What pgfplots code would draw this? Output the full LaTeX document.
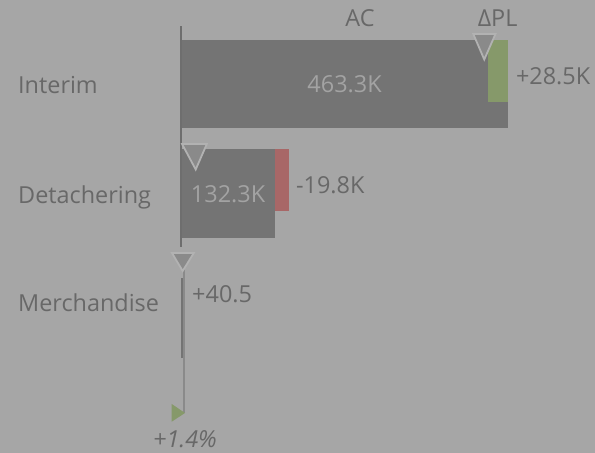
\documentclass[border=0pt]{standalone}
\usepackage{fontspec}
\setmainfont{Open Sans}
\usepackage{pgfplots}
\pgfplotsset{compat=1.18}
\definecolor{bg}{HTML}{A6A6A6}
\definecolor{barc}{HTML}{747474}
\definecolor{posc}{HTML}{86996A}
\definecolor{negc}{HTML}{A86767}
\definecolor{axc}{HTML}{6E6E6E}
\definecolor{trif}{HTML}{8A8A8A}
\definecolor{trio}{HTML}{B2B2B2}
\definecolor{lbl}{HTML}{686868}
\definecolor{inlbl}{HTML}{A3A3A3}
\newcommand{\fs}{\fontsize{23.5}{28}\selectfont}
\begin{document}
\begin{tikzpicture}
\begin{axis}[
  at={(0,0)}, anchor=north west,
  x=0.704bp, y=1bp, y dir=reverse,
  xmin=-257.8, xmax=587.4, ymin=0, ymax=453,
  axis line style={draw=none},
  axis background/.style={fill=bg},
  xtick=\empty,
  ytick={93.3,203.3,311.7},
  yticklabels={Interim,Detachering,Merchandise},
  major tick length=0pt,
  tick style={draw=none},
  yticklabel style={anchor=base west, xshift=18bp, inner sep=0pt, font=\fs, text=lbl},
  clip=false,
  nodes={inner sep=0pt, font=\fs},
]
% AC bars
\addplot[fill=barc, draw=none] coordinates {(0,40) (463.3,40) (463.3,128.3) (0,128.3)} -- cycle;
\addplot[fill=barc, draw=none] coordinates {(0,149) (132.3,149) (132.3,237.7) (0,237.7)} -- cycle;
\addplot[fill=barc, draw=none] coordinates {(-1,278) (2.93,278) (2.93,358) (-1,358)} -- cycle;
% Delta PL bars
\addplot[fill=posc, draw=none] coordinates {(434.8,40) (463.3,40) (463.3,101.7) (434.8,101.7)} -- cycle;
\addplot[fill=negc, draw=none] coordinates {(132.3,149) (152.1,149) (152.1,210.7) (132.3,210.7)} -- cycle;
% axis line
\addplot[draw=axc, line width=2bp] coordinates {(0,26) (0,247)};
% percent pin line
\addplot[draw=trif, line width=1.5bp] coordinates {(3.3,258) (3.3,413)};
% PL triangles
\addplot[fill=trif, draw=trio, line width=1.8bp, line join=miter] coordinates {(414.5,34) (446,34) (430.1,59.5)} -- cycle;
\addplot[fill=trif, draw=trio, line width=1.8bp, line join=miter] coordinates {(0.8,144) (36,144) (20.2,169.5)} -- cycle;
\addplot[fill=trif, draw=trio, line width=1.8bp, line join=miter] coordinates {(-13.5,253) (17.5,253) (1.7,271)} -- cycle;
% percent triangle
\addplot[fill=posc, draw=none] coordinates {(-13.9,404) (-13.9,421.7) (5.0,413)} -- cycle;
% labels
\node[anchor=base, text=lbl] at (axis cs:253.6,26) {AC};
\node[anchor=base, text=lbl] at (axis cs:449.1,26) {ΔPL};
\node[anchor=base, text=inlbl] at (axis cs:231.65,92.7) {463.3K};
\node[anchor=base west, text=lbl] at (axis cs:475,85) {+28.5K};
\node[anchor=base, text=inlbl] at (axis cs:66.15,202.7) {132.3K};
\node[anchor=base west, text=lbl] at (axis cs:162.5,194) {-19.8K};
\node[anchor=base west, text=lbl] at (axis cs:15,302.7) {+40.5};
\node[anchor=base, text=lbl] at (axis cs:5,447.3) {\itshape +1.4\%};
\end{axis}
\end{tikzpicture}
\end{document}
